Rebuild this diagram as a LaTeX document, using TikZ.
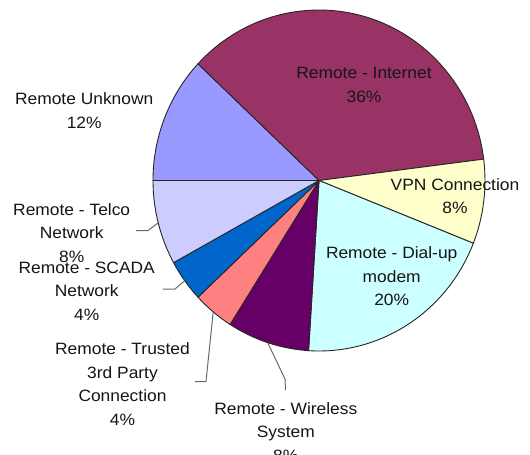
\documentclass[tikz,border=0pt]{standalone}
\usepackage{fontspec}
\usetikzlibrary{calc}
\newfontfamily\lblfont{Liberation Sans}[FakeStretch=1.06]
\definecolor{cUnknown}{HTML}{9999FF}
\definecolor{cInternet}{HTML}{993366}
\definecolor{cVPN}{HTML}{FFFFCC}
\definecolor{cDial}{HTML}{CCFFFF}
\definecolor{cWireless}{HTML}{660066}
\definecolor{cTrusted}{HTML}{FF8080}
\definecolor{cScada}{HTML}{0066CC}
\definecolor{cTelco}{HTML}{CCCCFF}
\definecolor{leadgray}{HTML}{6A6A6A}
\definecolor{txt}{HTML}{151515}
\tikzset{
  slice/.style={draw=black!85, line width=0.9pt, line join=round},
  lbl/.style={font={\lblfont\fontsize{16.4}{23.7}\selectfont}, text=txt,
              align=center, anchor=north, inner sep=0pt},
  leader/.style={draw=leadgray, line width=1pt}
}
% one slice of the pie: fill colour, start angle, end angle
\newcommand{\pieslice}[3]{%
  \filldraw[slice, fill=#1] (ctr) -- ++(#2:166 and 170.5)
    arc[start angle=#2, end angle=#3, x radius=166, y radius=170.5] -- cycle;}
\begin{document}
\begin{tikzpicture}[x=1pt, y=-1pt]
  \useasboundingbox[fill=white] (0,0) rectangle (530,455);
  \coordinate (ctr) at (319,180.5);

  % slices, clockwise from the left
  \pieslice{cUnknown}{-180}{-136.8}
  \pieslice{cInternet}{-136.8}{-7.2}
  \pieslice{cVPN}{-7.2}{21.6}
  \pieslice{cDial}{21.6}{93.6}
  \pieslice{cWireless}{93.6}{122.4}
  \pieslice{cTrusted}{122.4}{136.8}
  \pieslice{cScada}{136.8}{151.2}
  \pieslice{cTelco}{151.2}{180}

  % rim points at the middle of the small slices
  \coordinate (rimTelco)    at ($(ctr)+(165.6:166 and 170.5)$);
  \coordinate (rimScada)    at ($(ctr)+(144:166 and 170.5)$);
  \coordinate (rimTrusted)  at ($(ctr)+(129.6:166 and 170.5)$);
  \coordinate (rimWireless) at ($(ctr)+(108:166 and 170.5)$);

  % leader lines
  \coordinate (kTelco) at (148,230.5);   \coordinate (eTelco) at (136,230.5);
  \coordinate (kScada) at (175,289);     \coordinate (eScada) at (162.5,289);
  \coordinate (kTrusted) at (206,381.5); \coordinate (eTrusted) at (195,381.5);
  \coordinate (kWireless) at (285,379);  \coordinate (eWireless) at (285.5,390);
  \draw[leader] (rimTelco) -- (kTelco) -- (eTelco);
  \draw[leader] (rimScada) -- (kScada) -- (eScada);
  \draw[leader] (rimTrusted) -- (kTrusted) -- (eTrusted);
  \draw[leader] (rimWireless) -- (kWireless) -- (eWireless);

  % labels
  \node[lbl] (lInternet) at (364,67.5)  {Remote - Internet\\36\%};
  \node[lbl] (lUnknown)  at (84.2,92.5) {Remote Unknown\\12\%};
  \node[lbl] (lVPN)      at (455,178.2) {VPN Connection\\8\%};
  \node[lbl] (lDial)     at (391.7,246.5) {Remote - Dial-up\\modem\\20\%};
  \node[lbl] (lTelco)    at (71.7,203.2) {Remote - Telco\\Network\\8\%};
  \node[lbl] (lScada)    at (86.7,261.5) {Remote - SCADA\\Network\\4\%};
  \node[lbl] (lTrusted)  at (122.5,342.5) {Remote - Trusted\\3rd Party\\Connection\\4\%};
  \node[lbl] (lWireless) at (285.8,402.2) {Remote - Wireless\\System\\8\%};
\end{tikzpicture}
\end{document}
